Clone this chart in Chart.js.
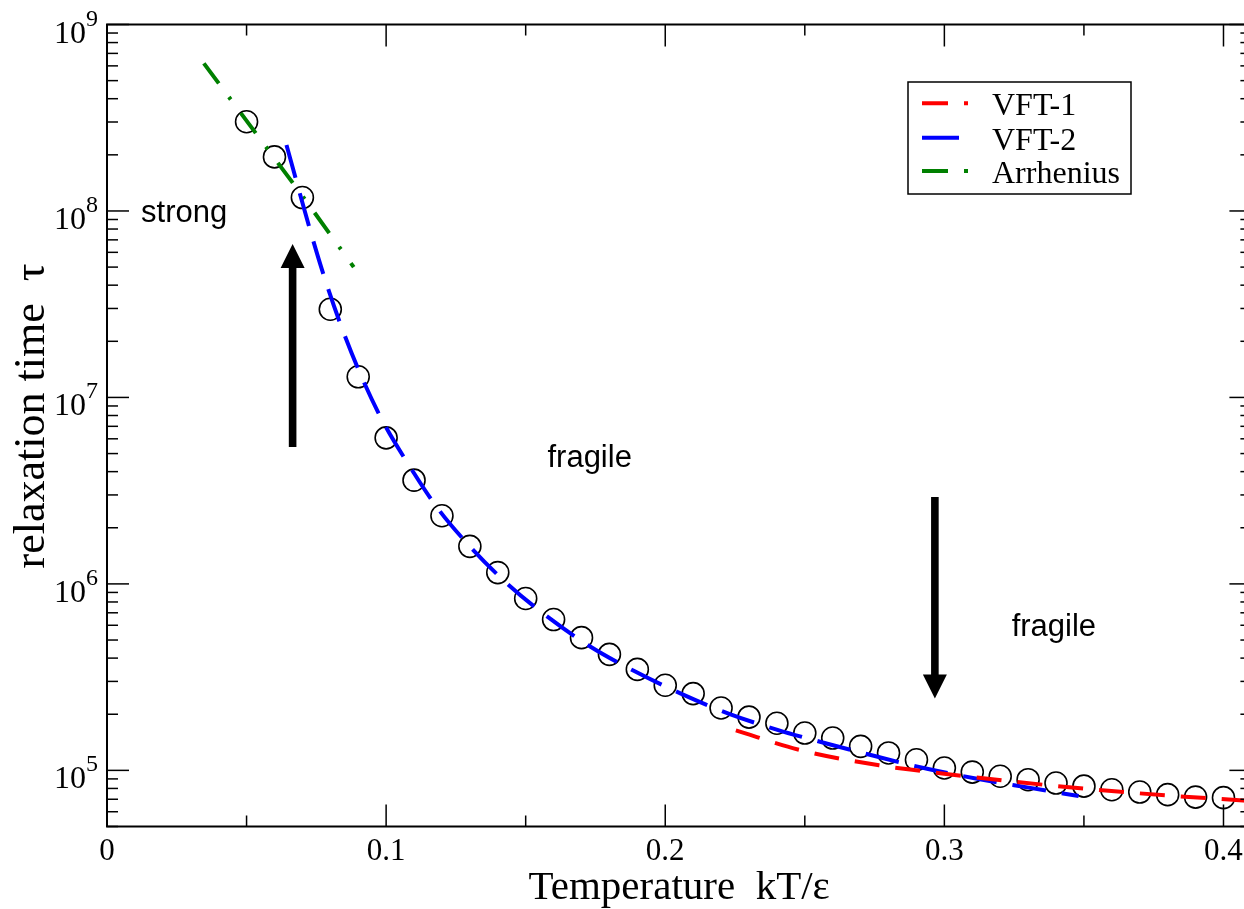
<!DOCTYPE html>
<html><head><meta charset="utf-8">
<script src="https://cdn.jsdelivr.net/npm/chart.js@4.4.1/dist/chart.umd.min.js"></script>
<style>
html,body{margin:0;padding:0;overflow:hidden;background:#fff;width:1244px;height:909px}
#wrap{position:absolute;left:0;top:0;width:1264px;height:909px}
</style>
</head><body><div id="wrap"><canvas id="c" width="1264" height="909"></canvas></div>
<script>
// ---- data ----
const temperature = [0.05,0.06,0.07,0.08,0.09,0.10,0.11,0.12,0.13,0.14,0.15,0.16,0.17,0.18,0.19,0.20,0.21,0.22,0.23,0.24,0.25,0.26,0.27,0.28,0.29,0.30,0.31,0.32,0.33,0.34,0.35,0.36,0.37,0.38,0.39,0.40];
const relaxationTime = [3.01e8,1.95e8,1.18e8,2.97e7,1.29e7,6.07e6,3.60e6,2.32e6,1.59e6,1.15e6,8.35e5,6.44e5,5.15e5,4.19e5,3.48e5,2.86e5,2.58e5,2.16e5,1.93e5,1.79e5,1.585e5,1.49e5,1.345e5,1.24e5,1.14e5,1.03e5,9.79e4,9.30e4,8.91e4,8.55e4,8.23e4,7.87e4,7.65e4,7.41e4,7.19e4,7.14e4];

const vft1Temperature = [0.2253,0.2479,0.2766,0.2915,0.3206,0.3499,0.3797,0.41];
const vft1Tau = [1.64e5,1.29e5,1.064e5,9.95e4,8.84e4,7.98e4,7.34e4,6.85e4];

const vft2Temperature = [0.0643,0.0726,0.078,0.084,0.0909,0.0989,0.1084,0.1185,0.1305,0.1436,0.1579,0.1731,0.1889,0.2056,0.2229,0.2402,0.2581,0.2754,0.2938,0.3117,0.3302,0.3481];
const vft2Tau = [2.26e8,8.07e7,4.35e7,2.39e7,1.32e7,7.40e6,4.28e6,2.54e6,1.56e6,9.96e5,6.65e5,4.62e5,3.41e5,2.58e5,2.01e5,1.65e5,1.39e5,1.19e5,1.02e5,9.02e4,8.08e4,7.28e4];

const arrheniusTemperature = [0.0347,0.0701,0.0884];
const arrheniusTau = [6.19e8,1.2e8,5.0e7];

const seriesNames = ['VFT-1','VFT-2','Arrhenius'];
const xTickValues = [0,0.1,0.2,0.3,0.4];
const xTickLabels = ['0','0.1','0.2','0.3','0.4'];
const xMinorTickValues = [0.05,0.15,0.25,0.35];
const yTickExponents = [5,6,7,8,9];
const xTitle = 'Temperature  kT/\u03b5';
const yTitle = 'relaxation time  \u03c4';

const annotationLabels = ['strong','fragile','fragile'];
const annotationT = [0.0122,0.1578,0.3241];
const annotationTau = [8.73e7,4.23e6,5.24e5];

const arrowT = [0.0665,0.2966];
const arrowFromTau = [5.43e6,2.92e6];
const arrowToTau = [6.65e7,2.43e5];

const toXY = (xs, ys) => xs.map((v,i)=>({x:v, y:ys[i]}));

const SERIF = '"Liberation Serif", "DejaVu Serif", serif';
const SANS = '"Liberation Sans", Arial, sans-serif';

const decor = {
  id: 'decor',
  afterDraw(chart) {
    const {ctx, chartArea: a, scales: {x, y}} = chart;
    ctx.save();
    ctx.strokeStyle = '#000';
    ctx.fillStyle = '#000';
    const line = (x1,y1,x2,y2)=>{ctx.beginPath();ctx.moveTo(x1,y1);ctx.lineTo(x2,y2);ctx.stroke();};

    // frame
    ctx.lineWidth = 2;
    ctx.strokeRect(a.left, a.top, a.right - a.left, a.bottom - a.top);

    // ticks (inward, all four sides)
    ctx.lineWidth = 1.5;
    xTickValues.forEach(v=>{const p=x.getPixelForValue(v); line(p,a.bottom,p,a.bottom-22); line(p,a.top,p,a.top+22);});
    xMinorTickValues.forEach(v=>{const p=x.getPixelForValue(v); line(p,a.bottom,p,a.bottom-11); line(p,a.top,p,a.top+11);});
    const eMin = Math.floor(Math.log10(y.min)), eMax = Math.ceil(Math.log10(y.max));
    for (let e=eMin; e<=eMax; e++) for (let m=1; m<=9; m++) {
      const v = m*Math.pow(10,e);
      if (v < y.min*0.9999 || v > y.max*1.0001) continue;
      const p = y.getPixelForValue(v);
      const len = m===1 ? 22 : 11;
      line(a.left,p,a.left+len,p); line(a.right,p,a.right-len,p);
    }

    // x tick labels
    ctx.font = '31px ' + SERIF;
    ctx.textAlign = 'center'; ctx.textBaseline = 'alphabetic';
    xTickValues.forEach((v,i)=>ctx.fillText(xTickLabels[i], x.getPixelForValue(v), 860));

    // y tick labels 10^n
    ctx.textAlign = 'left';
    yTickExponents.forEach(e=>{
      const p = y.getPixelForValue(Math.pow(10,e));
      ctx.font = '32px ' + SERIF; const w10 = ctx.measureText('10').width;
      ctx.font = '24px ' + SERIF; const ws = ctx.measureText(String(e)).width;
      const x0 = 98 - w10 - ws;
      ctx.font = '32px ' + SERIF; ctx.fillText('10', x0, p + 18);
      ctx.font = '24px ' + SERIF; ctx.fillText(String(e), x0 + w10, p + 1);
    });

    // axis titles
    ctx.font = '41px ' + SERIF;
    ctx.textAlign = 'center';
    ctx.fillText(xTitle, (a.left + a.right)/2, 899);
    ctx.save();
    ctx.font = '44px ' + SERIF;
    ctx.translate(44, 416);
    ctx.rotate(-Math.PI/2);
    ctx.fillText(yTitle, 0, 0);
    ctx.restore();

    // annotations
    ctx.font = '31px ' + SANS;
    ctx.textAlign = 'left';
    annotationLabels.forEach((t,i)=>ctx.fillText(t, x.getPixelForValue(annotationT[i]), y.getPixelForValue(annotationTau[i])));

    // arrows
    arrowT.forEach((t,i)=>{
      const px = x.getPixelForValue(t);
      const y0 = y.getPixelForValue(arrowFromTau[i]);
      const y1 = y.getPixelForValue(arrowToTau[i]);
      const dir = y1 < y0 ? -1 : 1;
      const headL = 24, headW = 12, shaft = 3.8;
      const yb = y1 - dir*headL;
      ctx.beginPath();
      ctx.moveTo(px - shaft, y0); ctx.lineTo(px + shaft, y0);
      ctx.lineTo(px + shaft, yb); ctx.lineTo(px + headW, yb);
      ctx.lineTo(px, y1); ctx.lineTo(px - headW, yb);
      ctx.lineTo(px - shaft, yb); ctx.closePath(); ctx.fill();
    });

    // legend
    const lx = 908, ly = 82, lw = 223, lh = 112;
    ctx.fillStyle = '#fff';
    ctx.fillRect(lx, ly, lw, lh);
    ctx.lineWidth = 1.5; ctx.strokeStyle = '#000';
    ctx.strokeRect(lx, ly, lw, lh);
    const rows = [103.3, 137.7, 171];
    const samples = [[26,16,4,100],[37,100],[26,16,4,100]];
    chart.data.datasets.slice(0,3).forEach((ds,i)=>{
      ctx.save();
      ctx.strokeStyle = ds.borderColor; ctx.lineWidth = 4; ctx.lineCap = 'butt';
      ctx.setLineDash(samples[i]);
      line(922, rows[i], 969, rows[i]);
      ctx.restore();
      ctx.fillStyle = '#000';
      ctx.font = '32px ' + SERIF;
      ctx.textAlign = 'left';
      ctx.fillText(ds.label, 992, rows[i] + 12);
    });
    ctx.restore();
  }
};

new Chart(document.getElementById('c'), {
  type: 'scatter',
  data: {
    datasets: [
      {label: seriesNames[0], data: toXY(vft1Temperature, vft1Tau), showLine: true, borderColor: '#ff0000', borderWidth: 4, borderDash: [25,16], borderCapStyle: 'butt', pointRadius: 0, cubicInterpolationMode: 'monotone', order: 1},
      {label: seriesNames[1], data: toXY(vft2Temperature, vft2Tau), showLine: true, borderColor: '#0000ff', borderWidth: 4, borderDash: [34,16], borderCapStyle: 'butt', pointRadius: 0, cubicInterpolationMode: 'monotone', order: 2},
      {label: seriesNames[2], data: toXY(arrheniusTemperature, arrheniusTau), showLine: true, borderColor: '#008000', borderWidth: 4, borderDash: [25,17,3,17], borderCapStyle: 'butt', pointRadius: 0, order: 3},
      {label: 'simulation', data: toXY(temperature, relaxationTime), showLine: false, pointStyle: 'circle', pointRadius: 11, pointBorderWidth: 1.6, pointBorderColor: '#000', pointBackgroundColor: 'rgba(0,0,0,0)', order: 4}
    ]
  },
  options: {
    responsive: false,
    maintainAspectRatio: false,
    devicePixelRatio: 1,
    animation: false,
    events: [],
    layout: {padding: {left: 0, top: 24.5, right: 11, bottom: 0}},
    plugins: {legend: {display: false}, tooltip: {enabled: false}},
    scales: {
      x: {type: 'linear', min: 0, max: 0.41, grid: {display: false}, border: {display: false}, ticks: {display: false},
          afterFit: s => { s.height = 82.5; }},
      y: {type: 'logarithmic', min: 5e4, max: 1e9, grid: {display: false}, border: {display: false}, ticks: {display: false},
          afterFit: s => { s.width = 107; }}
    }
  },
  plugins: [decor]
});
</script>
</body></html>
